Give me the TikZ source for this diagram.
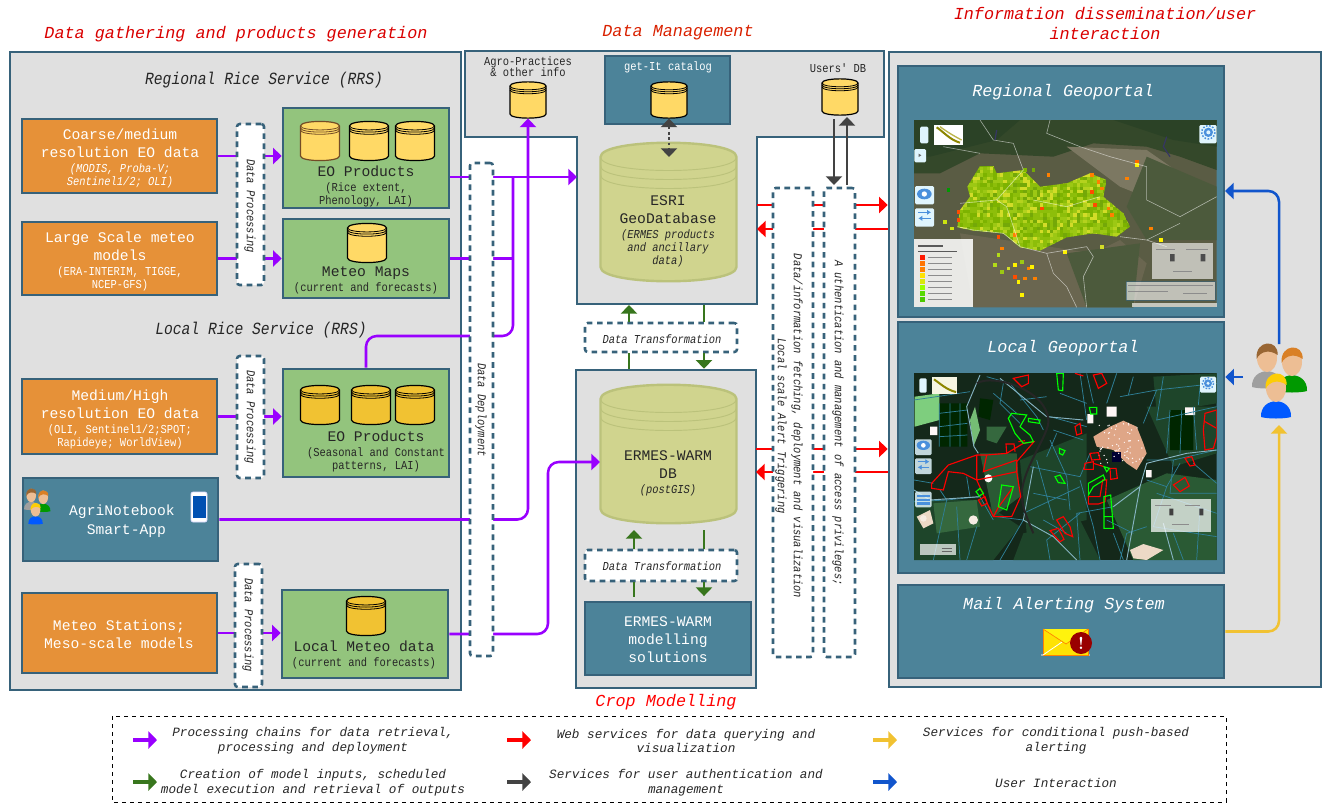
\documentclass[tikz,border=0pt]{standalone}
\usepackage{fontspec}
\usetikzlibrary{arrows.meta,fit}
\newfontfamily\plainmono{Liberation Mono}
\newfontfamily\narrowmono[FakeStretch=0.86]{Liberation Mono}
\newcommand{\headtxt}{\fontsize{12.6}{15}\selectfont\plainmono\itshape}
\newcommand{\ricetxt}{\fontsize{12.8}{15}\selectfont\narrowmono\itshape}
\newcommand{\bigtxt}{\fontsize{11}{13.5}\selectfont\plainmono}
\newcommand{\smalltxt}{\fontsize{9.1}{9.4}\selectfont\narrowmono}
\newcommand{\keytxt}{\fontsize{9.5}{11}\selectfont\plainmono\itshape}
\definecolor{edgeblue}{HTML}{37627A}
\definecolor{tealbox}{HTML}{4C8399}
\definecolor{panelgray}{HTML}{E0E0E0}
\definecolor{orangebox}{HTML}{E69138}
\definecolor{greenbox}{HTML}{93C47D}
\definecolor{dblight}{HTML}{FFD966}
\definecolor{dbdark}{HTML}{F1C232}
\definecolor{dbolive}{HTML}{D0D48E}
\definecolor{dboliveedge}{HTML}{BBC27B}
\definecolor{flowpurple}{HTML}{9900FF}
\definecolor{flowgreen}{HTML}{38761D}
\definecolor{flowgray}{HTML}{434343}
\definecolor{flowblue}{HTML}{1155CC}
\definecolor{cellA}{HTML}{8DBE0A}
\definecolor{cellB}{HTML}{7DB300}
\definecolor{cellC}{HTML}{9CC814}
\definecolor{cellD}{HTML}{74A808}
\definecolor{cellE}{HTML}{B4D21E}
\definecolor{cellF}{HTML}{D2DC28}
\definecolor{hillbase}{HTML}{5A5C44}
\definecolor{hillforest}{HTML}{34482A}
\definecolor{hilldark}{HTML}{2B4226}
\definecolor{hilltan}{HTML}{7C7862}
\definecolor{hillsand}{HTML}{6A6650}
\definecolor{hillgreen}{HTML}{4C5A3C}
\definecolor{fielddark}{HTML}{14281A}
\definecolor{fieldmid}{HTML}{1E452A}
\definecolor{fieldpale}{HTML}{2A5A34}
\definecolor{fieldlite}{HTML}{35683E}
\definecolor{ditchblue}{HTML}{2F8098}
\definecolor{trackblue}{HTML}{86B4C2}
\definecolor{uicolor}{HTML}{4A90DC}
\definecolor{skintone}{HTML}{EDBE94}
\tikzset{
  panel/.style={draw=edgeblue,fill=panelgray,line width=1.9pt,inner sep=0pt},
  orangenode/.style={draw=edgeblue,fill=orangebox,line width=1.9pt,inner sep=0pt},
  greenprod/.style={draw=edgeblue,fill=greenbox,line width=1.9pt,inner sep=0pt},
  tealnode/.style={draw=edgeblue,fill=tealbox,line width=1.9pt,inner sep=0pt},
  dashbox/.style={draw=edgeblue,fill=white,line width=1.9pt,inner sep=0pt,rounded corners=2pt,dash pattern=on 4.2pt off 3.4pt},
  vtext/.style={rotate=-90,inner sep=0pt,font=\smalltxt\itshape,align=center,text=black!85},
  txtlabel/.style={inner sep=0pt,align=center,text=black!85},
  whitelabel/.style={inner sep=0pt,align=center,text=white,font=\bigtxt},
  flowline/.style={line width=1.9pt},
  flowtip/.style={flowline,-{Triangle[length=6.5pt,width=12pt]}},
  keytip/.style={line width=2.6pt,-{Triangle[length=6.5pt,width=13pt]}},
  dbgold/.style={draw=black,fill=dblight,line width=.9pt},
  dbdeep/.style={draw=black,fill=dbdark,line width=.9pt},
  dbbrick/.style={draw=black!40!brown,fill=dblight,line width=.9pt},
  dbolv/.style={draw=dboliveedge,fill=dbolive,line width=1.8pt},
  dbsmall/.pic={
    \path[pic actions] (-18,-14) .. controls (-18,-19.5) and (18,-19.5) .. (18,-14) -- (18,14) .. controls (18,19.5) and (-18,19.5) .. (-18,14) -- cycle;
    \foreach \ring in {-14,-12,-10} {\path[pic actions,fill=none,line width=.6pt] (-18,\ring) .. controls (-18,\ring+5) and (18,\ring+5) .. (18,\ring);}
    \coordinate (-bot) at (0,18.5);
  },
  dbbig/.pic={
    \path[pic actions] (-68,-55) .. controls (-68,-74) and (68,-74) .. (68,-55) -- (68,55) .. controls (68,74) and (-68,74) .. (-68,55) -- cycle;
    \foreach \ring in {-55,-46,-37} {\path[pic actions,fill=none,line width=.7pt] (-68,\ring) .. controls (-68,\ring+18) and (68,\ring+18) .. (68,\ring);}
    \coordinate (-bot) at (0,69);
  },
  % three small people
  usersicon/.pic={
    \foreach \hx/\hy/\body/\hair in {-12/-22/gray!75/brown!80!black, 13/-18/green!60!black/brown!60!orange, -3/8/blue!65!cyan/yellow!65!orange} {
      \fill[\body] (\hx-15,\hy+29) .. controls (\hx-16,\hy+8) and (\hx+16,\hy+8) .. (\hx+15,\hy+29) .. controls (\hx+8,\hy+31) and (\hx-8,\hy+31) .. (\hx-15,\hy+29) -- cycle;
      \fill[skintone] (\hx,\hy) ellipse [x radius=10,y radius=14];
      \fill[\hair] (\hx-10.5,\hy+1) .. controls (\hx-12,\hy-19) and (\hx+12,\hy-19) .. (\hx+10.5,\hy-3) .. controls (\hx+4,\hy-8) and (\hx-6,\hy-8) .. (\hx-10.5,\hy+1) -- cycle;
    }
  },
  uibox/.style={fill=white!88!cyan,rounded corners=1pt},
  rednote/.style={draw=red,line width=.85pt},
  greennote/.style={draw=green,line width=.85pt},
  ditch/.style={draw=ditchblue,line width=.55pt},
  track/.style={draw=trackblue,line width=.7pt},
}

\begin{document}
\begin{tikzpicture}[x=0.75pt,y=-0.75pt]
  \useasboundingbox (0,0) rectangle (1326,803);

  % Panels
  \node[panel,fit={(10,52)(461,690)}] (gatherpanel) {};
  \node[panel,fit={(889,52)(1321,687)}] (infopanel) {};
  \filldraw[edgeblue,fill=panelgray,line width=1.9pt] (465,51) -- (884,51) -- (884,137) -- (757,137) -- (757,304) -- (577,304) -- (577,137) -- (465,137) -- cycle;
  \node[panel,fit={(576,370)(756,688)}] (croppanel) {};

  % Titles
  \node[inner sep=0pt,font=\headtxt,text=red!85!black] (titlegather) at (236,34) {Data gathering and products generation};
  \node[inner sep=0pt,font=\headtxt,text=red!70!orange!85!black] (titledata) at (678,33) {Data Management};
  \node[inner sep=0pt,font=\headtxt,text=red!85!black,align=center] (titleinfo) at (1105,23) {Information dissemination/user\\interaction};
  \node[inner sep=0pt,font=\headtxt,text=red] (titlecrop) at (666,702) {Crop Modelling};
  \node[txtlabel,font=\ricetxt] (regionalrice) at (264,80) {Regional Rice Service (RRS)};
  \node[txtlabel,font=\ricetxt] (localrice) at (261,330) {Local Rice Service (RRS)};

  % Sources
  \node[orangenode,fit={(22,119)(217,193)}] (coarse) {};
  \node[orangenode,fit={(22,222)(217,295)}] (large) {};
  \node[orangenode,fit={(22,379)(217,454)}] (medium) {};
  \node[tealnode,fit={(23,478)(218,561)}] (agri) {};
  \node[orangenode,fit={(22,593)(217,673)}] (stations) {};
  \node[whitelabel] (coarsetxt) at (120,158.5) {Coarse/medium\\resolution EO data\\[-2.2pt]\smalltxt\itshape (MODIS, Proba-V;\\[-3.8pt]\smalltxt\itshape Sentinel1/2; OLI)};
  \node[whitelabel] (largetxt) at (120,261.5) {Large Scale meteo\\models\\[-2.2pt]\smalltxt (ERA-INTERIM, TIGGE,\\[-3.8pt]\smalltxt NCEP-GFS)};
  \node[whitelabel] (mediumtxt) at (120,419) {Medium/High\\resolution EO data\\[-2.2pt]\smalltxt (OLI, Sentinel1/2;SPOT;\\[-3.8pt]\smalltxt Rapideye; WorldView)};
  \node[whitelabel] (agritxt) at (122,521) {AgriNotebook\\[1pt]\ Smart-App};
  \node[whitelabel] (stationstxt) at (119,634.5) {Meteo Stations;\\Meso-scale models};

  % Products
  \node[greenprod,fit={(283,108)(449,208)}] (eoa) {};
  \node[greenprod,fit={(283,219)(449,298)}] (maps) {};
  \node[greenprod,fit={(283,369)(449,477)}] (eob) {};
  \node[greenprod,fit={(282,590)(448,678)}] (lmeteo) {};
  \node[txtlabel,font=\bigtxt] (eoatxt) at (366,186) {EO Products\\[-2.2pt]\smalltxt (Rice extent,\\[-3.8pt]\smalltxt Phenology, LAI)};
  \node[txtlabel,font=\bigtxt] (mapstxt) at (366,280) {Meteo Maps\\[-2.2pt]\smalltxt (current and forecasts)};
  \node[txtlabel,font=\bigtxt] (eobtxt) at (376,451) {EO Products\\[-2.2pt]\smalltxt (Seasonal and Constant\\[-3.8pt]\smalltxt patterns, LAI)};
  \node[txtlabel,font=\bigtxt] (lmeteotxt) at (364,655) {Local Meteo data\\[-2.2pt]\smalltxt (current and forecasts)};
  \pic[dbbrick,scale=1.08] (eoadba) at (320,141) {dbsmall};
  \pic[dbgold,scale=1.08] (eoadbb) at (369,141) {dbsmall};
  \pic[dbgold,scale=1.08] (eoadbc) at (415,141) {dbsmall};
  \pic[dbgold,scale=1.08] (mapsdb) at (367,243) {dbsmall};
  \pic[dbdeep,scale=1.08] (eobdba) at (320,405) {dbsmall};
  \pic[dbdeep,scale=1.08] (eobdbb) at (371,405) {dbsmall};
  \pic[dbdeep,scale=1.08] (eobdbc) at (415,405) {dbsmall};
  \pic[dbdeep,scale=1.08] (lmeteodb) at (366,616) {dbsmall};

  % Data management
  \node[tealnode,fit={(605,56)(730,124)}] (getit) {};
  \node[txtlabel,text=white,font=\smalltxt] (getittxt) at (668,67) {get-It catalog};
  \node[txtlabel,font=\smalltxt] (agrotxt) at (528,67) {Agro-Practices\\[-1pt]\smalltxt \& other info};
  \node[txtlabel,font=\smalltxt] (userstxt) at (838,68) {Users' DB};
  \pic[dbgold] (agrodb) at (528,100) {dbsmall};
  \pic[dbgold] (getdb) at (669,100) {dbsmall};
  \pic[dbgold] (usersdb) at (840,97) {dbsmall};
  \pic[dbolv] (gdb) at (668.5,212) {dbbig};
  \pic[dbolv] (warmdb) at (668.5,454) {dbbig};
  \node[txtlabel,font=\bigtxt] (gdbtxt) at (668,231) {ESRI\\GeoDatabase\\[-2.2pt]\smalltxt\itshape (ERMES products\\[-3.8pt]\smalltxt\itshape and ancillary\\[-3.8pt]\smalltxt\itshape data)};
  \node[txtlabel,font=\bigtxt] (warmtxt) at (668,473) {ERMES-WARM\\DB\\[-2.2pt]\smalltxt\itshape (postGIS)};
  \node[tealnode,fit={(585,602)(751,675)}] (modelling) {};
  \node[whitelabel] (modellingtxt) at (668,640) {ERMES-WARM\\modelling\\solutions};
  \node[dashbox,fit={(585,323)(737,352)}] (transa) {};
  \node[dashbox,fit={(585,550)(737,581)}] (transb) {};
  \node[txtlabel,font=\smalltxt\itshape] (transatxt) at (662,339) {Data Transformation};
  \node[txtlabel,font=\smalltxt\itshape] (transbtxt) at (662,566) {Data Transformation};

  % Geoportals
  \node[tealnode,fit={(898,66)(1224,317)}] (regional) {};
  \node[tealnode,fit={(898,322)(1224,573)}] (localgeo) {};
  \node[tealnode,fit={(898,585)(1224,678)}] (mailbox) {};
  \node[inner sep=0pt,text=white,font=\headtxt] (regionaltxt) at (1063,92) {Regional Geoportal};
  \node[inner sep=0pt,text=white,font=\headtxt] (localtxt) at (1063,348) {Local Geoportal};
  \node[inner sep=0pt,text=white,font=\headtxt] (mailtxt) at (1064,605) {Mail Alerting System};

  % Regional map, in thirds of a pixel
  \begin{scope}[shift={(880,0)},x=0.25pt,y=-0.25pt]
    \begin{scope}
      \clip (102,360) rectangle (1010,922);
      \fill[hillbase] (102,360) rectangle (1010,922);
      \fill[hillforest] (102,360) -- (1010,360) -- (1010,510) -- (900,470) -- (800,440) -- (640,430) -- (520,470) -- (300,460) -- (180,520) -- (102,520) -- cycle;
      \fill[hilldark] (700,360) -- (1010,360) -- (1010,440) -- (880,420) -- cycle;
      \fill[hilldark] (102,360) -- (420,360) -- (350,420) -- (150,470) -- (102,470) -- cycle;
      \fill[hilltan] (560,440) -- (800,450) -- (900,520) -- (820,600) -- (720,560) -- cycle;
      \fill[hillgreen] (800,470) -- (1010,560) -- (1010,720) -- (800,720) -- (740,620) -- cycle;
      \fill[hillsand] (240,700) -- (640,760) -- (720,720) -- (800,790) -- (760,922) -- (280,922) -- cycle;
      \fill[hillgreen] (560,760) -- (780,730) -- (760,922) -- (620,922) -- cycle;
      % rice district
      \begin{scope}
        \clip (300,498) -- (340,498) -- (350,520) -- (430,510) -- (480,560) -- (560,550) -- (630,520) -- (680,540) -- (670,590) -- (730,640) -- (750,680) -- (710,710) -- (640,700) -- (560,712) -- (480,752) -- (420,742) -- (370,700) -- (280,692) -- (232,682) -- (240,630) -- (270,590) -- (262,560) -- cycle;
        \pgfmathsetseed{11}
        \foreach \gx in {230,240,...,750} {
          \foreach \gy in {490,500,...,750} {
            \pgfmathparse{{"A","B","C","D","A","B","C","A","E","F"}[random(0,9)]}
            \fill[cell\pgfmathresult] (\gx,\gy) rectangle ++(10.5,10.5);
          }
        }
      \end{scope}
      \foreach \cx/\cy/\cc in {765/480/red!60!yellow,765/490/yellow,735/530/orange,630/520/orange,650/540/orange,660/560/orange,630/570/red!70!yellow,680/620/orange,690/640/orange,640/610/red!70!yellow,480/620/red!70!yellow,350/705/red!70!yellow,400/700/orange,360/740/orange,350/760/yellow!70!green,200/565/green!60!black,190/660/yellow!80!green,230/630/red!70!yellow,230/655/red!70!yellow,210/680/yellow!80!green,808/680/orange,838/715/yellow,500/520/orange,430/505/cellB,455/505/cellD,550/750/yellow,660/735/cellF,400/790/yellow,420/780/cellC,440/800/orange,340/790/yellow!70!green,360/810/cellC,400/825/red!70!yellow,410/840/yellow,430/830/orange,460/830/orange,420/880/yellow,380/800/cellF,450/795/yellow} {
        \fill[\cc] (\cx,\cy) rectangle ++(11,11);
      }
      % province borders
      \draw[white,opacity=.55,line width=.45pt] (300,360) -- (340,420) -- (400,430) -- (430,510) -- (350,600) -- (380,620) -- (420,740) -- (500,760) -- (620,740) -- (640,770) -- (610,830) -- (620,922) (510,360) -- (500,400) -- (600,440) -- (690,470) -- (800,500) -- (800,600) -- (900,650) -- (1010,590) (232,680) -- (280,690) -- (370,700) -- (420,740) (500,760) -- (520,820) -- (560,860) -- (590,922) (720,710) -- (800,720) -- (900,670) (800,720) -- (860,740) (350,600) -- (240,610) (460,600) -- (560,620) -- (660,590) (190,440) -- (300,460);
      \draw[blue!30!gray!60!black,line width=.9pt] (860,410) -- (850,440) -- (870,470) (350,390) -- (345,420);
    \end{scope}
    % map controls
    \fill[uibox] (120,380) rectangle (145,430);
    \fill[white] (162,374) rectangle (248,434);
    \draw[olive,line width=1.5pt] (170,382) .. controls (190,395) and (210,420) .. (240,428);
    \draw[olive!60!white,line width=1pt] (180,380) .. controls (200,395) and (225,410) .. (245,420);
    \fill[uibox] (103,447) rectangle (138,487);
    \fill[black!60] (116,461) -- (124,466) -- (116,471) -- cycle;
    \fill[uibox] (105,558) rectangle (162,613);
    \fill[uicolor] (133,582) ellipse [x radius=22,y radius=16];
    \fill[white] (133,582) circle (8);
    \fill[uibox] (105,625) rectangle (162,680);
    \draw[uicolor,line width=1pt,-{Latex[length=3pt,width=4pt]}] (115,637) -- (153,637);
    \draw[uicolor,line width=1pt,-{Latex[length=3pt,width=4pt]}] (153,655) -- (115,655);
    \fill[uibox] (958,375) rectangle (1010,430);
    \fill[uicolor] (985,397) circle (14);
    \fill[uibox] (985,397) circle (6);
    \draw[uicolor,line width=1.1pt,dash pattern=on 1.2pt off 1.2pt] (985,397) circle (20);
    % phenology key
    \fill[white,opacity=.87] (102,718) rectangle (280,922);
    \draw[black!65,line width=.8pt] (115,738) -- (190,738) (115,755) -- (232,755);
    \foreach \sw/\sc in {765/red!90!yellow,783/orange!90!red,801/orange,819/yellow!85!orange,837/yellow!85!green,855/green!40!yellow,873/green!60!yellow!85!black,891/green!70!black!70!yellow} {
      \fill[\sc] (120,\sw) rectangle ++(16,15);
      \draw[black!45,line width=.6pt] (145,\sw+8) -- (215,\sw+8);
    }
    \fill[white,opacity=.62] (815,728) rectangle (998,838);
    \fill[black!70] (870,762) rectangle (884,784) (962,762) rectangle (976,784);
    \draw[black!45,line width=.6pt] (828,748) -- (885,748) (918,748) -- (985,748) (880,813) -- (935,813);
    \fill[white,opacity=.62,draw=edgeblue] (738,845) rectangle (1005,900);
    \draw[black!45,line width=.6pt] (745,857) -- (998,857) (745,873) -- (865,873) (910,880) -- (980,880);
    \fill[white,opacity=.65] (755,908) rectangle (1010,922);
  \end{scope}

  % Local map, in thirds of a pixel
  \begin{scope}[shift={(880,320)},x=0.25pt,y=-0.25pt]
    \begin{scope}
      \clip (102,160) rectangle (1010,720);
      \fill[fielddark] (102,160) rectangle (1010,720);
      \fill[fieldmid] (420,420) -- (620,340) -- (620,600) -- (440,640) -- cycle;
      \fill[fieldpale] (680,540) -- (860,460) -- (1010,480) -- (1010,720) -- (760,720) -- cycle;
      \fill[fieldmid] (800,260) -- (1010,260) -- (1010,400) -- (880,440) -- cycle;
      \fill[fieldmid] (102,540) -- (300,540) -- (420,620) -- (340,720) -- (102,720) -- cycle;
      \fill[fieldlite] (160,550) -- (290,540) -- (300,620) -- (170,640) -- cycle;
      \fill[fieldmid] (430,640) -- (600,600) -- (660,720) -- (400,720) -- cycle;
      \fill[fieldpale] (300,400) -- (410,400) -- (420,530) -- (340,590) -- cycle;
      \fill[fieldmid] (820,170) -- (1010,160) -- (1010,250) -- (830,280) -- cycle;
      \fill[black!85!green] (178,250) rectangle (262,380) (870,270) rectangle (940,390) (300,235) -- (340,240) -- (330,300) -- (295,290) -- cycle;
      \fill[gray!55!green!70!white] (104,230) -- (178,220) -- (178,300) -- (104,320) -- cycle;
      \fill[green!35!gray!80!white] (285,260) -- (300,330) -- (280,380) -- (270,300) -- cycle;
      \fill[fieldlite] (320,320) -- (380,320) -- (350,370) -- (320,360) -- cycle;
      \fill[brown!30!white] (110,590) -- (150,570) -- (160,610) -- (130,625) -- cycle (750,690) -- (790,672) -- (850,690) -- (800,720) -- (760,715) -- cycle;
      \fill[white!85!brown] (280,600) circle (14) (130,595) circle (10);
      % town
      \fill[brown!55!pink!90!white] (640,350) -- (690,320) -- (730,302) -- (770,320) -- (790,370) -- (800,400) -- (770,450) -- (740,430) -- (700,390) -- (650,380) -- cycle;
      \fill[white!85!pink] (680,260) rectangle (710,290) (622,282) rectangle (640,310) (915,262) rectangle (945,285) (798,450) rectangle (815,472) (150,320) rectangle (172,345);
      \fill[black!80!blue] (695,395) rectangle (722,425);
      \pgfmathsetseed{5}
      \foreach \sp in {1,...,60} {\fill[white!85!pink] ({650+rnd*140},{310+rnd*120}) circle (2.2);}
      \fill[white!90!pink] (325,475) circle (12);
      % field boundaries
      \path[ditch] (102,240) -- (270,215) (178,250) -- (178,380) (210,250) -- (210,380) (240,250) -- (240,380) (178,280) -- (262,270) (178,320) -- (262,310) (178,350) -- (262,345) (320,170) -- (390,190) -- (470,290) -- (490,330) (340,220) -- (410,280) (370,190) -- (360,250) -- (420,310) (420,240) -- (500,230) (510,290) -- (620,320) (600,160) -- (620,300) (710,160) -- (680,250) (720,230) -- (830,210) -- (1010,190) (830,210) -- (790,310) (850,170) -- (830,300) -- (1010,260) (870,270) -- (860,400) (905,270) -- (900,400) (940,260) -- (950,390) (800,420) -- (880,420) -- (1010,390) (880,420) -- (870,520) -- (1010,520) (940,430) -- (1010,490) (800,480) -- (860,500) -- (820,620) -- (1010,650) (880,640) -- (910,720) (960,560) -- (950,720) (720,720) -- (740,640) -- (800,620) (600,720) -- (590,580) -- (700,560) (600,480) -- (640,620) -- (660,720) (510,720) -- (500,660) -- (600,580) (430,580) -- (600,500) (450,440) -- (600,470) -- (630,400) (470,420) -- (520,600) (510,360) -- (560,470) -- (570,570) (520,330) -- (610,360) (530,340) -- (500,410) (350,590) -- (430,600) -- (360,720) (200,540) -- (300,530) -- (340,600) (102,545) -- (200,540) -- (160,720) (230,560) -- (240,720) (290,620) -- (260,720) (102,480) -- (160,490) (180,510) -- (200,540) (260,470) -- (270,530) (620,160) -- (640,250) (760,170) -- (745,225) (960,200) -- (955,255) (540,220) -- (620,250) (460,520) -- (560,540) (490,600) -- (560,640) (680,600) -- (760,640) (700,640) -- (730,720) (830,520) -- (1010,580) (900,430) -- (860,500);
      \path[track] (102,510) -- (150,540) -- (300,530) (300,165) -- (260,260) -- (282,380) -- (295,400) (360,175) -- (500,290) -- (610,300) (430,600) -- (520,650) -- (590,720) (700,560) -- (780,500) -- (800,430) -- (920,400) -- (1010,390) (780,500) -- (740,720) (430,600) -- (460,440) (880,720) -- (850,610);
      \draw[black!85,line width=1.5pt] (290,190) .. controls (340,160) and (500,210) .. (505,300) .. controls (510,340) and (430,440) .. (425,520) .. controls (425,560) and (440,590) .. (460,640);
      % monitored fields
      \path[rednote] (155,490) -- (205,435) -- (290,405) -- (320,405) -- (380,400) -- (430,370) -- (462,365) -- (410,425) -- (410,455) -- (422,530) -- (395,590) -- (340,590) -- (290,480) -- (250,460) -- (205,455) -- (190,510) -- (155,505) -- cycle (290,405) -- (290,480) (320,405) -- (310,455) -- (410,420) (380,400) -- (378,372) -- (402,372) -- (405,395) (415,365) -- (435,362) (290,480) -- (340,470) -- (410,455) (295,540) -- (315,530) -- (322,550) -- (305,558) -- cycle (340,590) -- (355,562) -- (400,500);
      \path[rednote] (400,175) -- (445,165) -- (445,190) -- (425,200) -- cycle (640,165) -- (665,160) -- (680,190) -- (655,205) -- cycle (585,160) -- (610,168) (585,320) -- (600,310) -- (605,340) -- (590,345) -- cycle (975,280) -- (1010,270) -- (1010,350) -- (1000,385) -- (975,390) -- (970,330) -- cycle (975,305) -- (1010,325) (915,415) -- (935,410) -- (945,435) -- (930,438) -- cycle (880,495) -- (915,472) -- (928,498) -- (900,515) -- cycle (630,400) -- (655,398) -- (660,418) -- (635,420) -- cycle (615,430) -- (640,425) -- (640,448) -- (612,448) -- cycle (640,430) -- (672,440) (690,445) -- (708,445) -- (712,475) -- (692,478) -- cycle (625,530) -- (660,530) -- (668,480) -- (680,480) -- (675,545) -- (655,552) -- (625,552) -- cycle (530,600) -- (550,590) -- (570,620) -- (578,650) -- (555,640) -- cycle (510,632) -- (535,625) -- (552,658) -- (540,665) -- cycle;
      \path[greennote] (385,295) -- (395,280) -- (440,285) -- (420,320) -- (450,345) -- (460,365) -- (430,370) -- (405,340) -- cycle (445,295) -- (480,300) -- (478,310) -- (445,305) -- cycle (530,160) -- (550,160) -- (548,212) -- (535,210) -- cycle (628,262) -- (650,262) -- (650,282) -- (632,282) -- cycle (538,385) -- (555,392) -- (548,405) -- (538,400) -- cycle (525,470) -- (540,465) -- (555,490) -- (535,488) -- cycle (625,490) -- (670,465) -- (675,478) -- (640,500) -- (625,525) -- cycle (672,530) -- (692,525) -- (700,625) -- (672,625) -- cycle (672,590) -- (700,590) (288,515) -- (300,505) -- (310,520) -- (298,528) -- cycle (365,495) -- (400,500) -- (380,570) -- (355,560) -- cycle (672,440) -- (688,445) -- (680,455) -- cycle;
    \end{scope}
    % map controls
    \fill[uibox] (118,175) rectangle (140,218);
    \fill[white!92!olive] (155,170) rectangle (232,222);
    \draw[olive,line width=1.5pt] (162,178) .. controls (180,190) and (200,210) .. (228,216);
    \fill[uibox] (960,170) rectangle (1008,218);
    \fill[uicolor] (984,190) circle (12);
    \fill[uibox] (984,190) circle (5);
    \draw[uicolor,line width=1pt,dash pattern=on 1.2pt off 1.2pt] (984,190) circle (17);
    \fill[uibox,opacity=.85] (105,358) rectangle (155,405);
    \fill[uicolor] (130,376) ellipse [x radius=20,y radius=14];
    \fill[white] (130,376) circle (7);
    \fill[uibox,opacity=.85] (105,415) rectangle (155,462);
    \draw[uicolor,line width=.9pt,-{Latex[length=3pt,width=4pt]}] (113,425) -- (148,425);
    \draw[uicolor,line width=.9pt,-{Latex[length=3pt,width=4pt]}] (148,442) -- (113,442);
    \fill[uibox,opacity=.85] (105,515) rectangle (155,562);
    \foreach \row in {525,536,547} {\fill[uicolor] (112,\row) rectangle (150,\row+7);}
    \fill[white,opacity=.7] (120,672) rectangle (228,705);
    \draw[black!60,line width=.5pt] (185,684) -- (215,684) (185,695) -- (215,695);
    \fill[white,opacity=.72] (812,538) rectangle (992,636);
    \fill[black!75] (868,566) rectangle (880,586) (958,566) rectangle (970,586);
    \draw[black!45,line width=.6pt] (825,555) -- (872,555) (915,555) -- (960,555) (875,612) -- (928,612);
  \end{scope}

  % Mail icon
  \fill[black!15,opacity=.6] (1041,654) rectangle (1090,656);
  \filldraw[draw=orange,fill=yellow!85!orange,line width=.4pt] (1043,629) rectangle (1088,655);
  \fill[yellow!95!white] (1043,629) -- (1066,644) -- (1088,629) -- cycle;
  \draw[white,line width=.6pt] (1043,655) -- (1062,642);
  \draw[orange,line width=.5pt] (1043,629) -- (1066,644) -- (1088,629);
  \node[circle,fill=red!60!black,text=white,inner sep=0pt,minimum size=16.5pt,font=\fontsize{13}{13}\selectfont\bfseries] (mailmark) at (1081,643) {!};

  % Phone and users
  \filldraw[draw=blue!15!white,fill=white,line width=.5pt,rounded corners=1.5pt] (191,492) rectangle (207,522);
  \fill[blue!55!cyan!70!black] (192.5,496) rectangle (205.5,518);
  \pic[scale=.48] (agriusers) at (37,506) {usersicon};
  \pic (mainusers) at (1279,380) {usersicon};

  % Processing chains
  \coordinate (gdbin) at (577,177);
  \coordinate (bustop) at (513,177);
  \coordinate (busbot) at (513,336);
  \coordinate (warmjog) at (548,462);
  \coordinate (warmin) at (600,462);
  \draw[flowtip,flowpurple] (coarse.east) -- (eoa.west |- coarse.east);
  \draw[flowtip,flowpurple] (large.east) -- (maps.west |- large.east);
  \draw[flowtip,flowpurple] (medium.east) -- (eob.west |- medium.east);
  \draw[flowtip,flowpurple] (stations.east) -- (lmeteo.west |- stations.east);
  \draw[flowtip,flowpurple] (eoa.east |- gdbin) -- (gdbin);
  \draw[flowline,flowpurple] (maps.east) -- (maps.east -| bustop);
  \draw[flowline,flowpurple,rounded corners=8pt] (eob.north) |- (busbot) -- (bustop);
  \draw[flowtip,flowpurple,rounded corners=8pt] (agri.east) -| (agrodb-bot);
  \draw[flowtip,flowpurple,rounded corners=8pt] (lmeteo.east) -| (warmjog) -- (warmin);

  % Model inputs and outputs
  \coordinate (stemleft) at (629,305);
  \coordinate (stemright) at (704,305);
  \coordinate (warmleft) at (634,530);
  \coordinate (warmright) at (704,530);
  \draw[flowtip,flowgreen] (transa.north -| stemleft) -- (stemleft);
  \draw[flowline,flowgreen] (stemright) -- (transa.north -| stemright);
  \draw[flowline,flowgreen] (transa.south -| stemleft) -- (croppanel.north -| stemleft);
  \draw[flowtip,flowgreen] (transa.south -| stemright) -- (croppanel.north -| stemright);
  \draw[flowtip,flowgreen] (transb.north -| warmleft) -- (warmleft);
  \draw[flowline,flowgreen] (warmright) -- (transb.north -| warmright);
  \draw[flowline,flowgreen] (transb.south -| warmleft) -- ([yshift=2.5pt]modelling.north -| warmleft);
  \draw[flowtip,flowgreen] (transb.south -| warmright) -- ([yshift=3.5pt]modelling.north -| warmright);

  % Web services
  \coordinate (stemouta) at (757,205);
  \coordinate (stemoutb) at (757,229);
  \coordinate (cropouta) at (756,449);
  \coordinate (cropoutb) at (756,472);
  \draw[flowtip,red] (stemouta) -- (infopanel.west |- stemouta);
  \draw[flowtip,red] (infopanel.west |- stemoutb) -- (stemoutb);
  \draw[flowtip,red] (cropouta) -- (infopanel.west |- cropouta);
  \draw[flowtip,red] (infopanel.west |- cropoutb) -- (cropoutb);

  % Catalog and users
  \coordinate (gdbdot) at (669,157);
  \coordinate (authdownA) at (834,119);
  \coordinate (authdownB) at (834,185);
  \coordinate (authupA) at (847,185);
  \coordinate (authupB) at (847,117);
  \draw[flowgray,line width=1.9pt,dash pattern=on 2pt off 2pt,{Triangle[length=6.5pt,width=12pt]}-{Triangle[length=6.5pt,width=12pt]}] (getdb-bot) -- (gdbdot);
  \draw[flowtip,flowgray] (authdownA) -- (authdownB);
  \draw[flowtip,flowgray] (authupA) -- (authupB);

  % User interaction and alerting
  \coordinate (usersup) at (1279,344);
  \coordinate (usersleft) at (1243,377);
  \coordinate (userslow) at (1279,425);
  \coordinate (regionalin) at (1225,191);
  \draw[flowtip,flowblue,rounded corners=8pt] (usersup) |- (regionalin);
  \draw[flowtip,flowblue] (usersleft) -- (localgeo.east |- usersleft);
  \draw[flowtip,dbdark,rounded corners=8pt] (mailbox.east) -| (userslow);

  % Dashed process boxes
  \node[dashbox,fit={(237,124)(264,285)}] (procA) {};
  \node[dashbox,fit={(237,356)(264,478)}] (procB) {};
  \node[dashbox,fit={(235,564)(262,687)}] (procC) {};
  \node[dashbox,fit={(470,163)(493,656)}] (deploy) {};
  \node[dashbox,fit={(773,188)(813,657)}] (fetch) {};
  \node[dashbox,fit={(824,188)(855,657)}] (auth) {};
  \node[vtext] (procAtxt) at (250,206) {Data Processing};
  \node[vtext] (procBtxt) at (250,417) {Data Processing};
  \node[vtext] (procCtxt) at (248,625) {Data Processing};
  \node[vtext] (deploytxt) at (481,410) {Data Deployment};
  \node[vtext] (fetchtxt) at (789,426) {Data/information fetching, deployment and visualization\\[2.5pt]\smalltxt\itshape Local scale Alert Triggering};
  \node[vtext] (authtxt) at (838,423) {A uthentication and management of access privileges;};

  % Legend
  \draw[black,line width=.7pt,dashed] (112,716) rectangle (1226,802);
  \foreach \keyname/\keycol/\keyx/\keyy in {kp/flowpurple/133/740,kr/red/507/740,ky/dbdark/873/740,kg/flowgreen/133/782,kk/flowgray/507/782,kb/flowblue/873/782} {
    \coordinate (\keyname a) at (\keyx,\keyy);
    \coordinate (\keyname b) at (\keyx+24,\keyy);
    \draw[keytip,\keycol] (\keyname a) -- (\keyname b);
  }
  \node[txtlabel,font=\keytxt] (keypurple) at (313,741) {Processing chains for data retrieval,\\processing and deployment};
  \node[txtlabel,font=\keytxt] (keyred) at (686,741) {Web services for data querying and\\visualization};
  \node[txtlabel,font=\keytxt] (keyyellow) at (1056,741) {Services for conditional push-based\\alerting};
  \node[txtlabel,font=\keytxt] (keygreen) at (313,783) {Creation of model inputs, scheduled\\model execution and retrieval of outputs};
  \node[txtlabel,font=\keytxt] (keygray) at (686,783) {Services for user authentication and\\management};
  \node[txtlabel,font=\keytxt] (keyblue) at (1056,783) {User Interaction};
\end{tikzpicture}
\end{document}
